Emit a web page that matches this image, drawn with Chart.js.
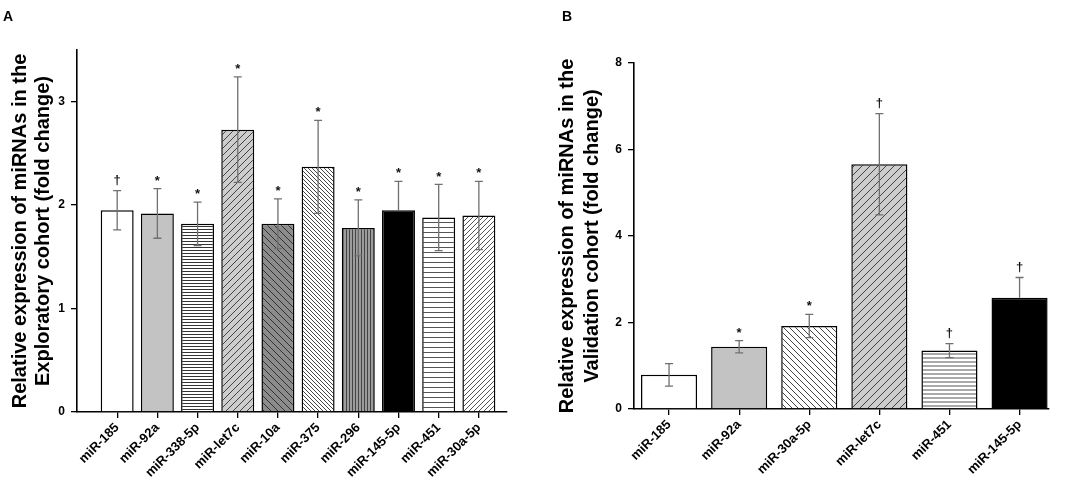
<!DOCTYPE html>
<html>
<head>
<meta charset="utf-8">
<script src="https://cdn.jsdelivr.net/npm/chart.js@4"></script>
<style>
  body { margin: 0; background: #fff; font-family: "Liberation Sans", Arial, sans-serif; }
  #wrap { position: relative; width: 1084px; height: 498px; }
  .panel { position: absolute; top: 0; height: 498px; }
  .letter { position: absolute; top: 8px; font: bold 14px "Liberation Sans", Arial, sans-serif; }
</style>
</head>
<body>
<div id="wrap">
  <div class="panel" style="left:0;width:540px"><canvas id="chartA"></canvas></div>
  <div class="panel" style="left:540px;width:544px"><canvas id="chartB"></canvas></div>
  <div class="letter" style="left:3px">A</div>
  <div class="letter" style="left:562px">B</div>
</div>
<script>
// Panel A - exploratory cohort
const labelsA = ['miR-185', 'miR-92a', 'miR-338-5p', 'miR-let7c', 'miR-10a', 'miR-375', 'miR-296', 'miR-145-5p', 'miR-451', 'miR-30a-5p'];
const valuesA = [1.95, 1.92, 1.82, 2.73, 1.82, 2.37, 1.78, 1.95, 1.88, 1.90];
const errorsA = [0.19, 0.24, 0.21, 0.51, 0.24, 0.45, 0.27, 0.28, 0.32, 0.33];
const marksA = ['†', '*', '*', '*', '*', '*', '*', '*', '*', '*'];
const yTicksA = [0, 1, 2, 3];

// Panel B - validation cohort
const labelsB = ['miR-185', 'miR-92a', 'miR-30a-5p', 'miR-let7c', 'miR-451', 'miR-145-5p'];
const valuesB = [0.79, 1.44, 1.92, 5.66, 1.35, 2.57];
const errorsB = [0.26, 0.14, 0.27, 1.17, 0.16, 0.47];
const marksB = ['', '*', '*', '†', '†', '†'];
const yTicksB = [0, 2, 4, 6, 8];

const FONT = '"Liberation Sans", Arial, sans-serif';

// build a small tile for hatched fills
function makePattern(bg, kind, gap, lineColor, lw) {
  const c = document.createElement('canvas');
  c.width = gap; c.height = gap;
  const ctx = c.getContext('2d');
  ctx.fillStyle = bg;
  ctx.fillRect(0, 0, gap, gap);
  if (kind) {
    ctx.strokeStyle = lineColor;
    ctx.lineWidth = lw;
    ctx.beginPath();
    if (kind === 'h') {
      ctx.moveTo(0, gap / 2); ctx.lineTo(gap, gap / 2);
    } else if (kind === 'v') {
      ctx.moveTo(gap / 2, 0); ctx.lineTo(gap / 2, gap);
    } else {
      for (let k = -1; k <= 1; k++) {
        if (kind === '/') { ctx.moveTo(k * gap, gap); ctx.lineTo(k * gap + gap, 0); }
        else { ctx.moveTo(k * gap, 0); ctx.lineTo(k * gap + gap, gap); }
      }
    }
    ctx.stroke();
  }
  return ctx.createPattern(c, 'repeat');
}

const fillsA = [
  '#ffffff',
  '#c3c3c3',
  makePattern('#ffffff', 'h', 3, '#333', 1),
  makePattern('#cdcdcd', '/', 7, '#444', 1),
  makePattern('#8c8c8c', '\\', 7, '#333', 1),
  makePattern('#ffffff', '\\', 4, '#444', 1),
  makePattern('#9c9c9c', 'v', 3, '#444', 1),
  '#000000',
  makePattern('#ffffff', 'h', 5, '#555', 1),
  makePattern('#ffffff', '/', 5, '#555', 1)
];
const fillsB = [
  '#ffffff',
  '#c3c3c3',
  makePattern('#ffffff', '\\', 6, '#444', 1),
  makePattern('#cdcdcd', '/', 8, '#444', 1),
  makePattern('#ffffff', 'h', 4, '#555', 1),
  '#000000'
];

// error bars and significance marks
const errorBarPlugin = {
  id: 'errorBars',
  afterDatasetsDraw(chart, args, opts) {
    const ctx = chart.ctx;
    const xs = chart.scales.x, ys = chart.scales.y;
    ctx.save();
    ctx.strokeStyle = '#707070';
    ctx.lineWidth = 1.3;
    opts.values.forEach((v, i) => {
      const x = xs.getPixelForValue(i);
      const top = ys.getPixelForValue(v + opts.errors[i]);
      const bot = ys.getPixelForValue(v - opts.errors[i]);
      const mid = ys.getPixelForValue(v);
      const lower = opts.fills[i] === '#000000' ? mid : bot;
      ctx.beginPath();
      ctx.moveTo(x, top); ctx.lineTo(x, lower);
      ctx.moveTo(x - 4, top); ctx.lineTo(x + 4, top);
      if (lower === bot) { ctx.moveTo(x - 4, bot); ctx.lineTo(x + 4, bot); }
      ctx.stroke();
      if (opts.marks[i]) {
        ctx.fillStyle = '#111';
        ctx.font = 'bold 13px ' + FONT;
        ctx.textAlign = 'center';
        ctx.textBaseline = 'bottom';
        ctx.fillText(opts.marks[i], x, top - (opts.marks[i] === '*' ? 1 : 4));
      }
    });
    ctx.restore();
  }
};

function buildChart(id, labels, values, errors, marks, fills, yTicks, yMax, xMin, xMax, title, pad, yWidth, xHeight, barPct, titleLH) {
  return new Chart(document.getElementById(id), {
    type: 'bar',
    data: {
      datasets: [{
        data: values.map((v, i) => ({ x: i, y: v })),
        backgroundColor: fills,
        borderColor: '#000',
        borderWidth: 1.5,
        borderSkipped: 'bottom',
        barPercentage: barPct,
        categoryPercentage: 1
      }]
    },
    options: {
      responsive: true,
      maintainAspectRatio: false,
      animation: false,
      layout: { padding: pad },
      plugins: {
        legend: { display: false },
        tooltip: { enabled: false },
        errorBars: { values: values, errors: errors, marks: marks, fills: fills }
      },
      scales: {
        x: {
          type: 'linear',
          offset: false,
          min: xMin,
          max: xMax,
          afterBuildTicks: s => { s.ticks = labels.map((l, i) => ({ value: i })); },
          afterFit: s => { s.height = xHeight; },
          ticks: {
            callback: v => labels[v],
            autoSkip: false,
            maxRotation: 45,
            minRotation: 45,
            padding: 2,
            color: '#000',
            font: { family: FONT, size: 13, weight: 'bold' }
          },
          grid: { drawOnChartArea: false, drawTicks: true, tickLength: 6, color: '#000', lineWidth: 1.3, offset: false },
          border: { display: true, color: '#000', width: 1.6 }
        },
        y: {
          min: 0,
          max: yMax,
          afterBuildTicks: s => { s.ticks = yTicks.map(v => ({ value: v })); },
          afterFit: s => { s.width = yWidth; },
          ticks: {
            color: '#000',
            padding: 6,
            font: { family: FONT, size: 12, weight: 'bold' }
          },
          grid: { drawOnChartArea: false, drawTicks: true, tickLength: 6, color: '#000', lineWidth: 1.3 },
          border: { display: true, color: '#000', width: 1.6 },
          title: {
            display: true,
            text: title,
            color: '#000',
            padding: { top: 0, bottom: 4 },
            font: { family: FONT, size: 20, weight: 'bold', lineHeight: titleLH }
          }
        }
      }
    },
    plugins: [errorBarPlugin]
  });
}

buildChart('chartA', labelsA, valuesA, errorsA, marksA, fillsA, yTicksA, 3.5, -1, 9.7,
  ['Relative expression of miRNAs in the', 'Exploratory cohort (fold change)'],
  { left: 9, right: 33, top: 50, bottom: 0 }, 68, 86, 0.82, 1.15);

buildChart('chartB', labelsB, valuesB, errorsB, marksB, fillsB, yTicksB, 8, -0.5, 5.42,
  ['Relative expression of miRNAs in the', 'Validation cohort (fold change)'],
  { left: 15, right: 35, top: 63, bottom: 0 }, 79, 89, 0.8, 1.25);
</script>
</body>
</html>
